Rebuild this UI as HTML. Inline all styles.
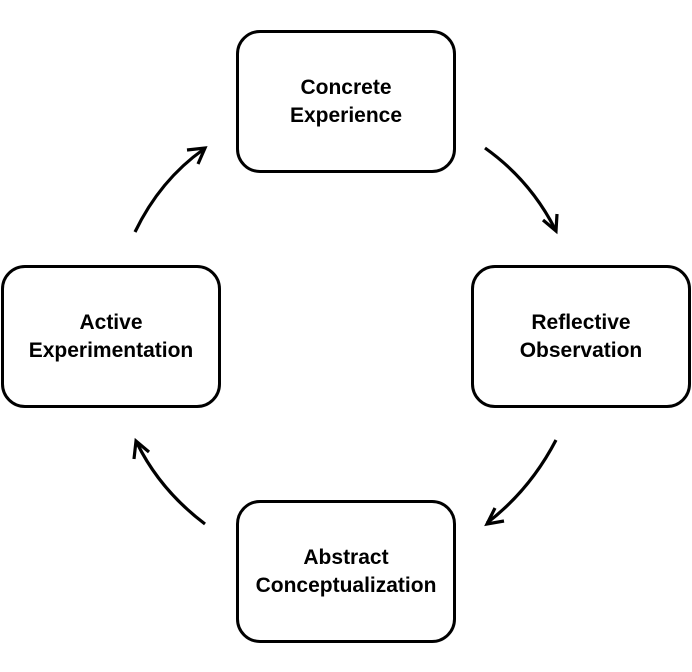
<!DOCTYPE html><html><head><style>
body{margin:0;width:692px;height:672px;background:#fff;position:relative;font-family:"Liberation Sans",sans-serif}
.b{position:absolute;box-sizing:border-box;width:220px;height:143px;border:3px solid #000;border-radius:24px;display:flex;align-items:center;justify-content:center;text-align:center;font-weight:bold;font-size:21px;line-height:28px}
</style></head><body>
<div class="b" style="left:236px;top:30px">Concrete<br>Experience</div>
<div class="b" style="left:471px;top:265px">Reflective<br>Observation</div>
<div class="b" style="left:1px;top:265px">Active<br>Experimentation</div>
<div class="b" style="left:236px;top:500px">Abstract<br>Conceptualization</div>
<svg width="692" height="672" style="position:absolute;left:0;top:0" fill="none" stroke="#000" stroke-width="3.2">
<path d="M485 148 Q530 180 555 229"/><path d="M543 220 L556 231 L557 214"/>
<path d="M556 440 Q530 490 487 523"/><path d="M504 521 L487 524 L495 508"/>
<path d="M205 524 Q160 490 137 443"/><path d="M134 459 L136 441 L149 452"/>
<path d="M135 232 Q160 180 204 149"/><path d="M187 150 L205 148 L198 164"/>
</svg>
</body></html>
